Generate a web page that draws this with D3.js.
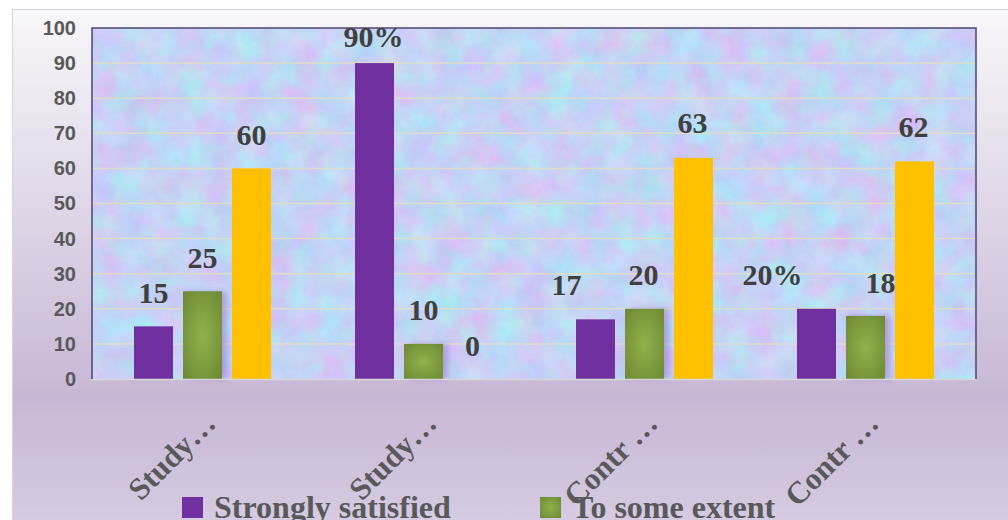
<!DOCTYPE html>
<html>
<head>
<meta charset="utf-8">
<script src="https://cdn.jsdelivr.net/npm/d3@7"></script>
<style>
  body { margin: 0; background: #fff; }
  svg { display: block; }
  .tick text { font-family: "Liberation Sans", Arial, sans-serif; font-weight: bold; font-size: 20px; fill: #595959; }
  .valLabel { font-family: "Liberation Serif", "Times New Roman", serif; font-weight: bold; font-size: 30px; fill: #404040; text-anchor: middle; }
  .catLabel { font-family: "Liberation Serif", "Times New Roman", serif; font-weight: bold; font-size: 31px; fill: #595959; text-anchor: end; }
  .legText { font-family: "Liberation Serif", "Times New Roman", serif; font-weight: bold; font-size: 32px; fill: #595959; }
</style>
</head>
<body>
<svg id="chart" width="1008" height="520"></svg>
<script>
// data
var categories = ["Study…", "Study… ", "Contr …", "Contr … "];
var seriesNames = ["Strongly satisfied", "To some extent", "Not satisfied"];
var stronglySatisfied = [15, 90, 17, 20];
var toSomeExtent = [25, 10, 20, 18];
var notSatisfied = [60, 0, 63, 62];
var valueLabels = [
    ["15", "90%", "17", "20%"],
    ["25", "10", "20", "18"],
    ["60", "0", "63", "62"]
];
var yTicks = [0, 10, 20, 30, 40, 50, 60, 70, 80, 90, 100];

// label nudges (layout only) [dx, dy] from bar centre / bar top
var labelNudge = [
    [[0, -23], [-1, -16], [-29, -24], [-44, -24]],
    [[0, -23], [0, -24], [-1, -24], [15, -23]],
    [[0, -23], [0, -23], [-1, -25], [-1, -24]]
];

var colors = ["#7030a0", "url(#greenGrad)", "#ffc000"];

var margin = {top: 28, right: 32, bottom: 141, left: 92},
    width = 1008 - margin.left - margin.right,
    height = 520 - margin.top - margin.bottom;

var svg = d3.select("#chart");
var defs = svg.append("defs");

// outer background gradient
var bg = defs.append("linearGradient").attr("id", "outerGrad")
    .attr("x1", 0).attr("y1", 0).attr("x2", 0).attr("y2", 1);
bg.append("stop").attr("offset", "0%").attr("stop-color", "#f8f7f9");
bg.append("stop").attr("offset", "72%").attr("stop-color", "#c7b7d6");
bg.append("stop").attr("offset", "100%").attr("stop-color", "#d9d0e5");

// green bar gradient
var gg = defs.append("radialGradient").attr("id", "greenGrad")
    .attr("cx", "50%").attr("cy", "50%").attr("r", "65%");
gg.append("stop").attr("offset", "0%").attr("stop-color", "#90b24a");
gg.append("stop").attr("offset", "100%").attr("stop-color", "#6f8b36");

// purple glow behind green bars
var glow = defs.append("filter").attr("id", "glow")
    .attr("x", "-30%").attr("y", "-20%").attr("width", "180%").attr("height", "140%");
glow.append("feDropShadow").attr("dx", 5).attr("dy", 0)
    .attr("stdDeviation", 3).attr("flood-color", "#9a70c8").attr("flood-opacity", 0.55);

// tissue paper texture for plot area
var tex = defs.append("filter").attr("id", "paper")
    .attr("color-interpolation-filters", "sRGB")
    .attr("x", 0).attr("y", 0).attr("width", "100%").attr("height", "100%");
tex.append("feTurbulence").attr("type", "fractalNoise")
    .attr("baseFrequency", "0.035").attr("numOctaves", 5).attr("seed", 7);
tex.append("feColorMatrix").attr("type", "matrix")
    .attr("values", "0.25 -0.1 0 0 0.695  -0.1 0.22 0 0 0.77  0 0 0.08 0 0.92  0 0 0 0 1");

svg.append("rect")
    .attr("x", 12.5).attr("y", 9.5)
    .attr("width", 1000).attr("height", 540)
    .attr("fill", "url(#outerGrad)")
    .attr("stroke", "#d6d6d6");

var x = d3.scaleBand().domain(categories).range([0, width]);
var y = d3.scaleLinear().domain([0, 100]).range([height, 0]);
var xSub = d3.scaleBand().domain(seriesNames)
    .range([42, 179]).paddingInner(10 / 49);

var g = svg.append("g")
    .attr("transform", "translate(" + margin.left + "," + margin.top + ")");

g.append("rect")
    .attr("width", width).attr("height", height)
    .attr("filter", "url(#paper)");

// gridlines
g.append("g")
    .selectAll("line")
    .data(yTicks.slice(1, -1))
    .enter().append("line")
    .attr("x1", 0).attr("x2", width)
    .attr("y1", function(d) { return y(d); })
    .attr("y2", function(d) { return y(d); })
    .attr("stroke", "#dedccb")
    .attr("stroke-width", 1.5);

var allSeries = [stronglySatisfied, toSomeExtent, notSatisfied];

allSeries.forEach(function(vals, s) {
    g.append("g")
        .selectAll("rect")
        .data(vals)
        .enter().append("rect")
        .attr("x", function(d, i) { return x(categories[i]) + xSub(seriesNames[s]); })
        .attr("y", function(d) { return y(d); })
        .attr("width", xSub.bandwidth())
        .attr("height", function(d) { return height - y(d); })
        .attr("fill", colors[s])
        .attr("filter", s === 1 ? "url(#glow)" : null);
});

// plot border (left, top, right dark; bottom light)
g.append("line").attr("x1", 0).attr("x2", width).attr("y1", height + 0.5).attr("y2", height + 0.5)
    .attr("stroke", "#d8d8d8").attr("stroke-width", 1.5);
g.append("path")
    .attr("d", "M0," + height + "V0H" + width + "V" + height)
    .attr("fill", "none").attr("stroke", "#4f4470").attr("stroke-width", 1.5);

// value labels
allSeries.forEach(function(vals, s) {
    g.append("g")
        .selectAll("text")
        .data(vals)
        .enter().append("text")
        .attr("class", "valLabel")
        .attr("x", function(d, i) {
            return x(categories[i]) + xSub(seriesNames[s]) + xSub.bandwidth() / 2 + labelNudge[s][i][0];
        })
        .attr("y", function(d, i) { return y(d) + labelNudge[s][i][1]; })
        .text(function(d, i) { return valueLabels[s][i]; });
});

// y axis
var yAxis = g.append("g")
    .call(d3.axisLeft(y).tickValues(yTicks).tickSize(0).tickPadding(16));
yAxis.select(".domain").remove();

// category labels
g.append("g")
    .selectAll("text")
    .data(categories)
    .enter().append("text")
    .attr("class", "catLabel")
    .attr("transform", function(d) {
        return "translate(" + (x(d) + x.bandwidth() / 2 + 15) + "," + (height + 46) + ") rotate(-45)";
    })
    .text(function(d) { return d.trim(); });

// legend
var legX = [182, 540];
var legend = svg.append("g");
seriesNames.slice(0, 2).forEach(function(name, i) {
    legend.append("rect")
        .attr("x", legX[i]).attr("y", 497)
        .attr("width", 21).attr("height", 21)
        .attr("fill", colors[i]);
    legend.append("text")
        .attr("class", "legText")
        .attr("x", legX[i] + 32).attr("y", 518)
        .text(name);
});
</script>
</body>
</html>
